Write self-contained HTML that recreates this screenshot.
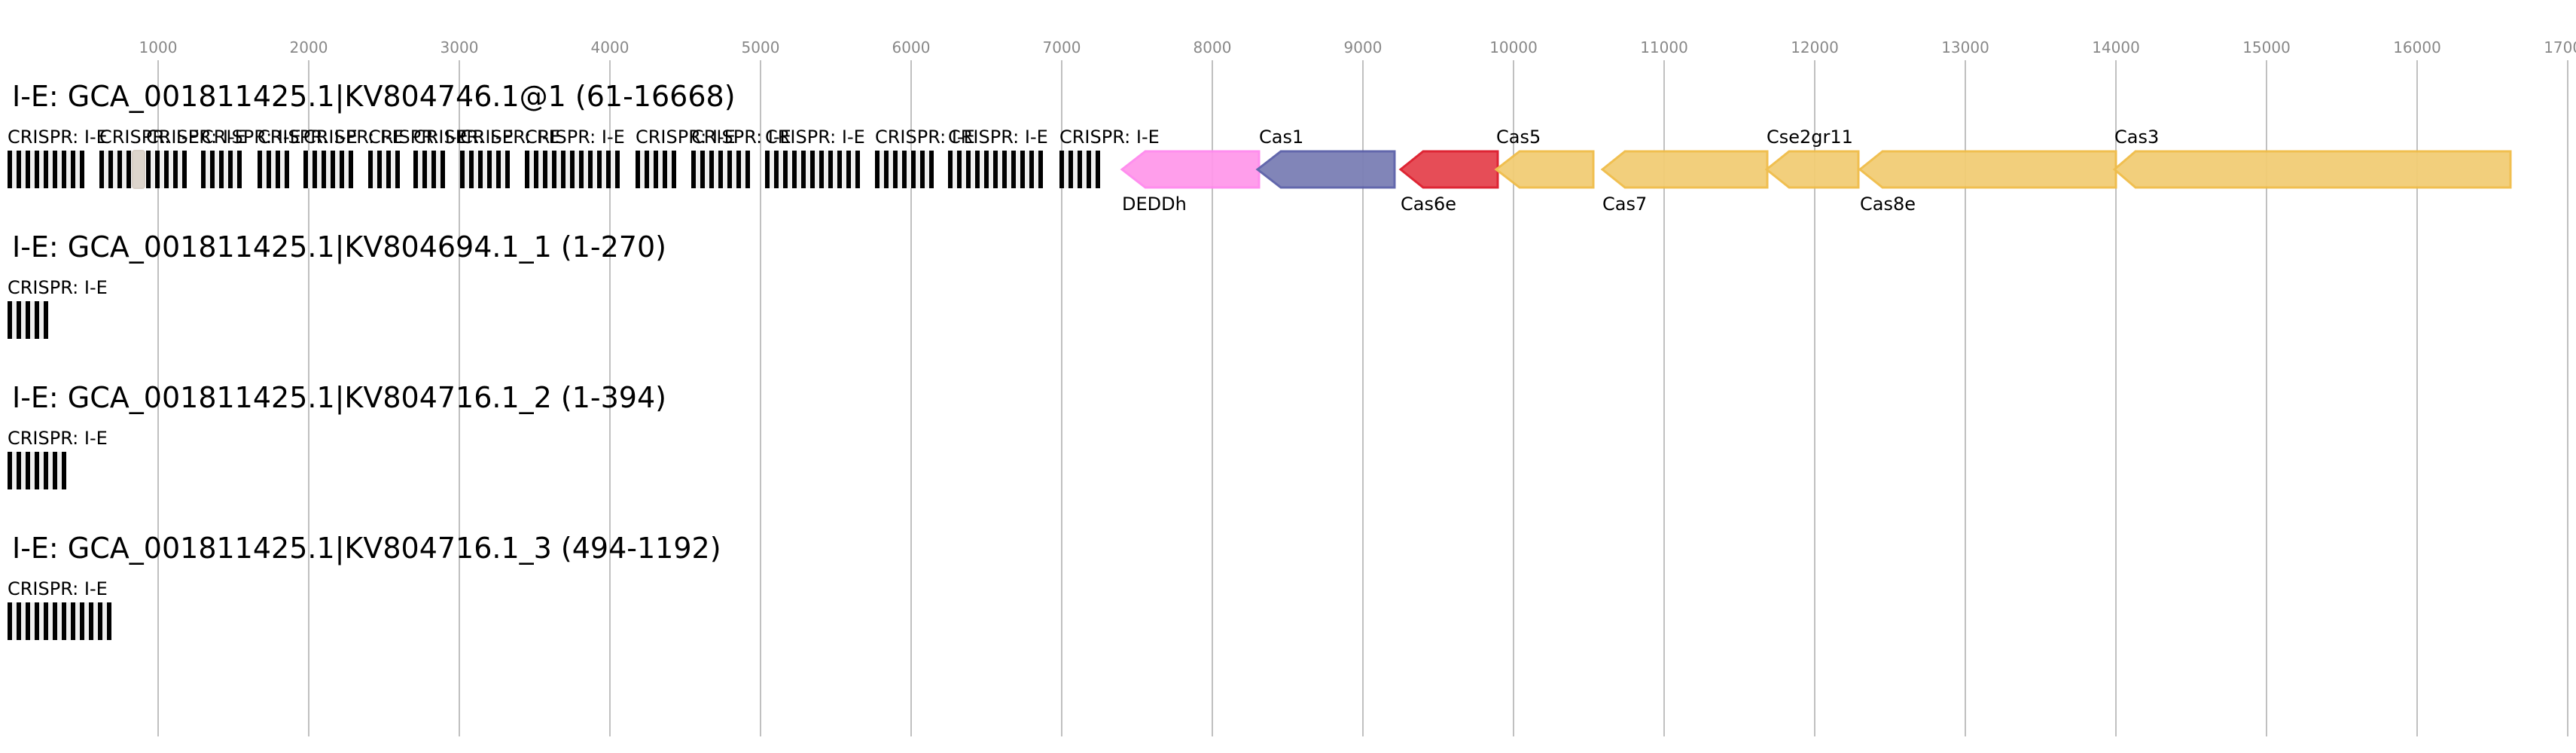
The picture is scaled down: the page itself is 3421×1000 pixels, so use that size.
<!DOCTYPE html>
<html><head><meta charset="utf-8"><style>
html,body{margin:0;padding:0;background:#fff;}
svg{display:block;font-family:"DejaVu Sans","Liberation Sans",sans-serif;}
</style></head><body>
<svg id="s" width="3421" height="1000" viewBox="0 0 3421 1000" xmlns="http://www.w3.org/2000/svg">
<g id="ticks" stroke="#c0c0c0" stroke-width="2">
<line x1="210" y1="80" x2="210" y2="978"/><line x1="410" y1="80" x2="410" y2="978"/><line x1="610" y1="80" x2="610" y2="978"/><line x1="810" y1="80" x2="810" y2="978"/><line x1="1010" y1="80" x2="1010" y2="978"/><line x1="1210" y1="80" x2="1210" y2="978"/><line x1="1410" y1="80" x2="1410" y2="978"/><line x1="1610" y1="80" x2="1610" y2="978"/><line x1="1810" y1="80" x2="1810" y2="978"/><line x1="2010" y1="80" x2="2010" y2="978"/><line x1="2210" y1="80" x2="2210" y2="978"/><line x1="2410" y1="80" x2="2410" y2="978"/><line x1="2610" y1="80" x2="2610" y2="978"/><line x1="2810" y1="80" x2="2810" y2="978"/><line x1="3010" y1="80" x2="3010" y2="978"/><line x1="3210" y1="80" x2="3210" y2="978"/><line x1="3410" y1="80" x2="3410" y2="978"/>
</g>
<g fill="#888" font-size="20" text-anchor="middle">
<text x="210" y="70">1000</text><text x="410" y="70">2000</text><text x="610" y="70">3000</text><text x="810" y="70">4000</text><text x="1010" y="70">5000</text><text x="1210" y="70">6000</text><text x="1410" y="70">7000</text><text x="1610" y="70">8000</text><text x="1810" y="70">9000</text><text x="2010" y="70">10000</text><text x="2210" y="70">11000</text><text x="2410" y="70">12000</text><text x="2610" y="70">13000</text><text x="2810" y="70">14000</text><text x="3010" y="70">15000</text><text x="3210" y="70">16000</text><text x="3410" y="70">17000</text>
</g>
<g fill="#000" font-size="38">
<text x="16" y="141">I-E: GCA_001811425.1|KV804746.1@1 (61-16668)</text>
<text x="16" y="341">I-E: GCA_001811425.1|KV804694.1_1 (1-270)</text>
<text x="16" y="541">I-E: GCA_001811425.1|KV804716.1_2 (1-394)</text>
<text x="16" y="741">I-E: GCA_001811425.1|KV804716.1_3 (494-1192)</text>
</g>
<g id="bars"></g>
<rect x="176" y="200" width="16" height="50" rx="3" fill="#ddd5cc" stroke="#d8cfc6" stroke-width="2"/>
<g fill="#000" font-size="24">
<text x="10" y="190">CRISPR: I-E</text><text x="132" y="190">CRISPR: I-E</text><text x="194" y="190">CRISPR: I-E</text><text x="267" y="190">CRISPR: I-E</text><text x="342" y="190">CRISPR: I-E</text><text x="403" y="190">CRISPR: I-E</text><text x="489" y="190">CRISPR: I-E</text><text x="549" y="190">CRISPR: I-E</text><text x="611" y="190">CRISPR: I-E</text><text x="697" y="190">CRISPR: I-E</text><text x="844" y="190">CRISPR: I-E</text><text x="918" y="190">CRISPR: I-E</text><text x="1016" y="190">CRISPR: I-E</text><text x="1162" y="190">CRISPR: I-E</text><text x="1259" y="190">CRISPR: I-E</text><text x="1407" y="190">CRISPR: I-E</text>
<text x="10" y="390">CRISPR: I-E</text>
<text x="10" y="590">CRISPR: I-E</text>
<text x="10" y="790">CRISPR: I-E</text>
</g>
<g stroke-width="3" opacity="0.95">
<polygon points="1490,225 1521,201 1672,201 1672,249 1521,249" fill="#ff99ea" stroke="#ff88ee"/>
<polygon points="1670,225 1701,201 1852,201 1852,249 1701,249" fill="#7b7fb5" stroke="#5a5fa8"/>
<polygon points="1860,225 1890,201 1989,201 1989,249 1890,249" fill="#e5444f" stroke="#dd1a2a"/>
<polygon points="1987,225 2018,201 2116,201 2116,249 2018,249" fill="#f2cd75" stroke="#f0bc47"/>
<polygon points="2128,225 2158,201 2347,201 2347,249 2158,249" fill="#f2cd75" stroke="#f0bc47"/>
<polygon points="2346,225 2376,201 2468,201 2468,249 2376,249" fill="#f2cd75" stroke="#f0bc47"/>
<polygon points="2470,225 2500,201 2810,201 2810,249 2500,249" fill="#f2cd75" stroke="#f0bc47"/>
<polygon points="2808,225 2836,201 3334,201 3334,249 2836,249" fill="#f2cd75" stroke="#f0bc47"/>
</g>
<g fill="#000" font-size="24">
<text x="1490" y="279">DEDDh</text>
<text x="1672" y="190">Cas1</text>
<text x="1860" y="279">Cas6e</text>
<text x="1987" y="190">Cas5</text>
<text x="2128" y="279">Cas7</text>
<text x="2346" y="190">Cse2gr11</text>
<text x="2470" y="279">Cas8e</text>
<text x="2808" y="190">Cas3</text>
</g>
</svg>
<script>
var arr=[[10,9,200],[132,4,200],[194,5,200],[267,5,200],[342,4,200],[403,6,200],[489,4,200],[549,4,200],[611,6,200],[697,11,200],[844,5,200],[918,7,200],[1016,11,200],[1162,7,200],[1259,11,200],[1407,5,200],[10,5,400],[10,7,600],[10,12,800]];
var g=document.getElementById('bars'),h='';
arr.forEach(function(a){var s=a[0],n=a[1],y=a[2];
h+='<rect x="'+s+'" y="'+y+'" width="'+((n-1)*12+6)+'" height="50" fill="#efefef"/>';
for(var i=0;i<n;i++)h+='<rect x="'+(s+12*i)+'" y="'+y+'" width="6" height="50" fill="#000"/>';});
g.innerHTML=h;
</script>
</body></html>
